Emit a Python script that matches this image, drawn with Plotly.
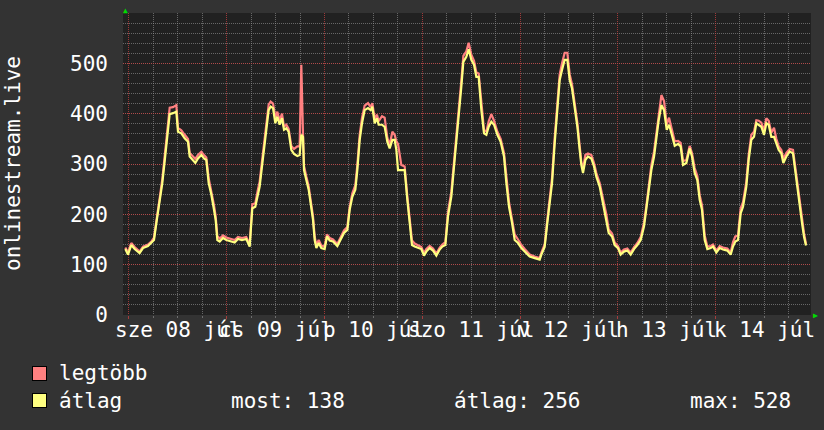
import plotly.graph_objects as go

# ---- data (hours since 2015-07-08 00:00) ----
hours = [-0.9, -0.25, 0.57, 1.39, 2.6, 3.44, 4.66, 5.48, 6.14, 6.71, 7.53, 8.18, 8.76, 9.58, 9.99, 10.8, 11.62,
         12.03, 12.85, 13.67, 14.49, 14.9, 15.71, 16.29, 16.94, 17.76, 18.41, 18.98, 19.56, 20.22, 20.87, 21.28,
         21.69, 22.27, 23.08, 23.9, 25.12, 25.94, 26.76, 27.74, 28.8, 29.63, 30.28, 31.01, 31.67,
         32.08, 32.65, 33.14, 33.72, 34.29, 34.78, 35.36, 35.93, 36.42, 36.99, 37.56, 38.06, 38.63, 39.2, 39.85,
         40.51, 41.33, 41.9, 42.31, 42.72, 42.97, 43.54, 44.11, 44.6, 45.18, 45.59, 46.0, 46.57, 47.22, 48.04,
         48.61, 49.27, 50.09, 51.15, 51.97, 52.79, 53.61, 54.18, 54.83, 55.57, 56.06, 56.64, 57.21, 57.86, 58.68,
         59.33, 59.74, 60.32, 60.89, 61.3, 62.12, 62.77, 63.43, 64.0, 64.66, 65.23, 65.64, 66.05,
         66.86, 67.68, 68.33, 68.91, 69.48, 70.14, 70.95, 71.77, 72.43, 73.0, 73.82, 74.64, 75.46, 76.28, 76.93,
         77.67, 78.32, 79.14, 79.8, 80.37, 80.94, 81.6, 82.09, 82.82, 83.4, 84.05, 84.71, 85.28, 85.85, 86.51,
         87.16, 87.74, 88.31, 88.96, 89.62, 90.44, 91.25, 92.07, 92.65, 93.3, 94.04, 94.69, 95.51, 96.33, 97.15,
         98.37, 99.6, 100.83,
         101.24, 102.05, 102.71, 103.28, 103.86, 104.51, 105.17, 105.74, 106.31, 106.97, 107.62, 108.2, 108.77,
         109.42, 110.08, 110.65, 111.06, 111.47, 112.04, 112.69, 113.51, 114.17, 114.74, 115.56, 116.38, 117.2,
         117.77, 118.59, 119.24, 120.06, 120.71, 121.53, 122.35, 123.17, 123.99, 124.81, 125.63, 126.45, 127.02,
         127.68, 128.25, 128.91, 129.48, 130.05, 130.71, 131.36, 132.02, 132.59, 133.17, 133.98, 134.8,
         135.44, 136.02, 136.84, 137.65, 138.22, 138.88, 139.53, 140.11, 140.68, 141.34, 141.99, 142.81, 143.38,
         144.2, 145.02, 145.84, 146.9, 147.72, 148.29, 148.86, 149.52, 150.17, 150.75, 151.56, 152.14, 152.79,
         153.45, 154.02, 154.59, 155.25, 155.9, 156.48, 157.05, 157.7, 158.36, 158.93, 159.51, 160.16, 160.65,
         161.39, 162.2, 163.02, 163.6, 164.25, 164.66, 165.23, 165.72, 166.21]

atlag = [131, 120, 139, 131, 123, 133, 137, 143, 149, 182, 225, 262, 305, 361, 399, 401, 404,
         364, 361, 351, 344, 315, 308, 302, 311, 318, 311, 308, 262, 239, 209, 189,
         149, 146, 153, 149, 146, 144, 151, 149, 151, 136, 212, 215, 240,
         255, 295, 328, 374, 407, 414, 411, 381, 394, 378, 391, 368, 371, 364, 328,
         320, 316, 318, 358, 354, 288, 268, 249, 222, 189, 149, 133, 143, 133, 131,
         156, 148, 146, 137, 149, 163, 169, 209, 235, 249, 288, 348, 381, 407, 411,
         407, 414, 381, 391, 378, 378, 374, 344, 331, 348, 348, 328, 288,
         288, 288, 229, 183, 139, 136, 133, 131, 118, 126, 133, 128, 118, 130, 136,
         139, 196, 235, 295, 341, 394, 454, 503, 513, 528, 507, 497, 473, 473, 407,
         361, 358, 374, 384, 378, 358, 344, 315, 262, 215, 183, 149, 143, 133, 126,
         116, 113, 110,
         120, 135, 183, 222, 262, 341, 407, 467, 487, 507, 507, 467, 450,
         414, 374, 328, 298, 282, 308, 315, 311, 295, 275, 255, 222, 192,
         163, 156, 139, 133, 120, 126, 128, 120, 131, 139, 149, 176, 209,
         249, 288, 315, 354, 387, 417, 407, 368, 378, 361, 336, 340,
         335, 298, 302, 331, 315, 282, 268, 229, 209, 149, 131, 133, 136,
         124, 133, 130, 128, 120, 136, 146, 149, 202, 215, 255, 308, 348,
         354, 381, 378, 374, 358, 381, 378, 354, 354, 341, 328, 321, 302,
         315, 325, 321, 282, 245, 209, 183, 156, 138]

legtobb = [134, 124, 143, 135, 126, 136, 140, 146, 154, 190, 232, 270, 312, 372, 412, 413, 417,
           372, 367, 358, 350, 322, 314, 310, 318, 324, 318, 313, 272, 246, 218, 196,
           157, 152, 158, 154, 151, 149, 155, 153, 155, 140, 220, 222, 250,
           265, 305, 338, 385, 418, 424, 420, 392, 404, 386, 400, 374, 378, 370, 336,
           330, 335, 335, 497, 360, 296, 275, 256, 228, 196, 156, 138, 149, 138, 136,
           160, 153, 150, 141, 154, 168, 175, 215, 242, 258, 298, 358, 392, 416, 421,
           413, 421, 390, 398, 385, 395, 392, 352, 338, 364, 358, 345, 340,
           298, 295, 236, 192, 148, 142, 138, 135, 123, 131, 137, 132, 122, 134, 140,
           145, 205, 245, 305, 352, 404, 466, 515, 524, 541, 517, 505, 482, 480, 418,
           368, 364, 385, 399, 386, 364, 350, 322, 272, 224, 190, 160, 150, 139, 131,
           120, 116, 113,
           124, 140, 190, 230, 272, 352, 418, 478, 500, 521, 521, 478, 458,
           422, 382, 336, 304, 290, 318, 321, 318, 302, 282, 262, 230, 200,
           170, 162, 144, 137, 124, 130, 132, 124, 135, 143, 155, 184, 217,
           258, 298, 325, 364, 400, 437, 425, 378, 392, 370, 345, 346,
           342, 306, 308, 336, 322, 292, 276, 238, 218, 158, 136, 137, 140,
           128, 137, 134, 132, 124, 145, 156, 158, 212, 224, 265, 318, 358,
           364, 387, 386, 382, 366, 391, 386, 362, 372, 350, 335, 328, 310,
           322, 330, 328, 292, 255, 220, 192, 163, 141]

day_labels = ["sze 08 júl", "cs 09 júl", "p 10 júl", "szo 11 júl", "v 12 júl", "h 13 júl", "k 14 júl"]
label_hours = [12, 36, 60, 84, 108, 132, 156]
y_tick_values = [0, 100, 200, 300, 400, 500]
series_names = ["legtöbb", "átlag"]
series_colors = ["#FF8080", "#FFFF80"]
stat_labels = ["most", "átlag", "max"]
stat_values = [138, 256, 528]
y_title = "onlinestream.live"

# ---- layout geometry ----
W_FIG, H_FIG = 824, 430
L, R, T, B = 123, 13, 13, 115
PW, PH = W_FIG - L - R, H_FIG - T - B
PLOT_BOTTOM = H_FIG - B


def pxx(px):
    return (px - L) / PW


def pxy(py):
    return (PLOT_BOTTOM - py) / PH


FONT = "DejaVu Sans Mono"
PAPER = "#333333"
CANVAS = "#212121"
MINOR_GRID = "rgba(150,150,150,0.6)"
MAJOR_GRID = "rgba(200,65,65,0.75)"
DOTS = "1px,1px"

fig = go.Figure()
fig.add_trace(go.Scatter(x=hours, y=legtobb, mode="lines", name=series_names[0],
                         line=dict(color=series_colors[0], width=2.2), hoverinfo="skip"))
fig.add_trace(go.Scatter(x=hours, y=atlag, mode="lines", name=series_names[1],
                         line=dict(color=series_colors[1], width=2.2), hoverinfo="skip"))

midnights = [24 * d for d in range(0, 8)]
six_hourly = [h for h in range(-6, 174, 6) if h % 24 != 0]

fig.update_layout(
    width=W_FIG, height=H_FIG,
    margin=dict(l=L, r=R, t=T, b=B, pad=0),
    paper_bgcolor=PAPER, plot_bgcolor=CANVAS,
    showlegend=False,
    font=dict(family=FONT, size=21, color="#ffffff"),
    xaxis=dict(
        range=[-1.47, 167.44], tickmode="array", tickvals=midnights,
        ticktext=[""] * len(midnights), showticklabels=False,
        showgrid=True, gridcolor=MAJOR_GRID, griddash=DOTS, gridwidth=1,
        ticks="outside", ticklen=3, tickcolor=MAJOR_GRID,
        zeroline=False, showline=False, fixedrange=True,
        minor=dict(tickmode="array", tickvals=six_hourly, showgrid=True,
                   gridcolor=MINOR_GRID, griddash=DOTS, gridwidth=1,
                   ticks="outside", ticklen=2, tickcolor=MINOR_GRID),
    ),
    yaxis=dict(
        range=[0, 600], tickmode="array", tickvals=y_tick_values,
        showgrid=True, gridcolor=MAJOR_GRID, griddash=DOTS, gridwidth=1,
        zeroline=False, showline=False, ticks="", ticklabelstandoff=14,
        tickfont=dict(family=FONT, size=21, color="#ffffff"), fixedrange=True,
        minor=dict(tickmode="linear", dtick=20, tick0=0, showgrid=True, gridcolor=MINOR_GRID,
                   griddash=DOTS, gridwidth=1),
    ),
)

ann = []
# x-axis day labels (centered at noon)
for h, t in zip(label_hours, day_labels):
    ann.append(dict(x=h, xref="x", y=pxy(330), yref="paper", text=t, showarrow=False,
                    xanchor="center", yanchor="middle",
                    font=dict(family=FONT, size=21, color="#ffffff")))
# y-axis title
ann.append(dict(x=pxx(13), y=pxy(164), xref="paper", yref="paper", text=y_title, textangle=-90,
                showarrow=False, xanchor="center", yanchor="middle",
                font=dict(family=FONT, size=21, color="#ffffff")))
# legend swatches and names
rows_y = [373, 401]
for name, col, ry in zip(series_names, series_colors, rows_y):
    ann.append(dict(x=pxx(32), y=pxy(ry), xref="paper", yref="paper", text=" ", showarrow=False,
                    xanchor="left", yanchor="middle", width=13, height=13, bgcolor=col,
                    bordercolor="#000000", borderwidth=1, borderpad=0,
                    font=dict(family=FONT, size=8)))
    ann.append(dict(x=pxx(57), y=pxy(ry), xref="paper", yref="paper", text=name, showarrow=False,
                    xanchor="left", yanchor="middle",
                    font=dict(family=FONT, size=21, color="#ffffff")))
# stats on the second row
stat_x = [229, 452, 688]
for lab, val, sx in zip(stat_labels, stat_values, stat_x):
    ann.append(dict(x=pxx(sx), y=pxy(401), xref="paper", yref="paper", text=f"{lab}: {val}",
                    showarrow=False, xanchor="left", yanchor="middle",
                    font=dict(family=FONT, size=21, color="#ffffff")))
# green axis arrows
ann.append(dict(x=pxx(125), y=pxy(10), xref="paper", yref="paper", text="▲", showarrow=False,
                xanchor="center", yanchor="middle", font=dict(size=8, color="#00dd00")))
ann.append(dict(x=pxx(815), y=pxy(315.5), xref="paper", yref="paper", text="▶", showarrow=False,
                xanchor="center", yanchor="middle", font=dict(size=8, color="#00dd00")))
fig.update_layout(annotations=ann)

fig.write_html("out.html", config=dict(displayModeBar=False))
